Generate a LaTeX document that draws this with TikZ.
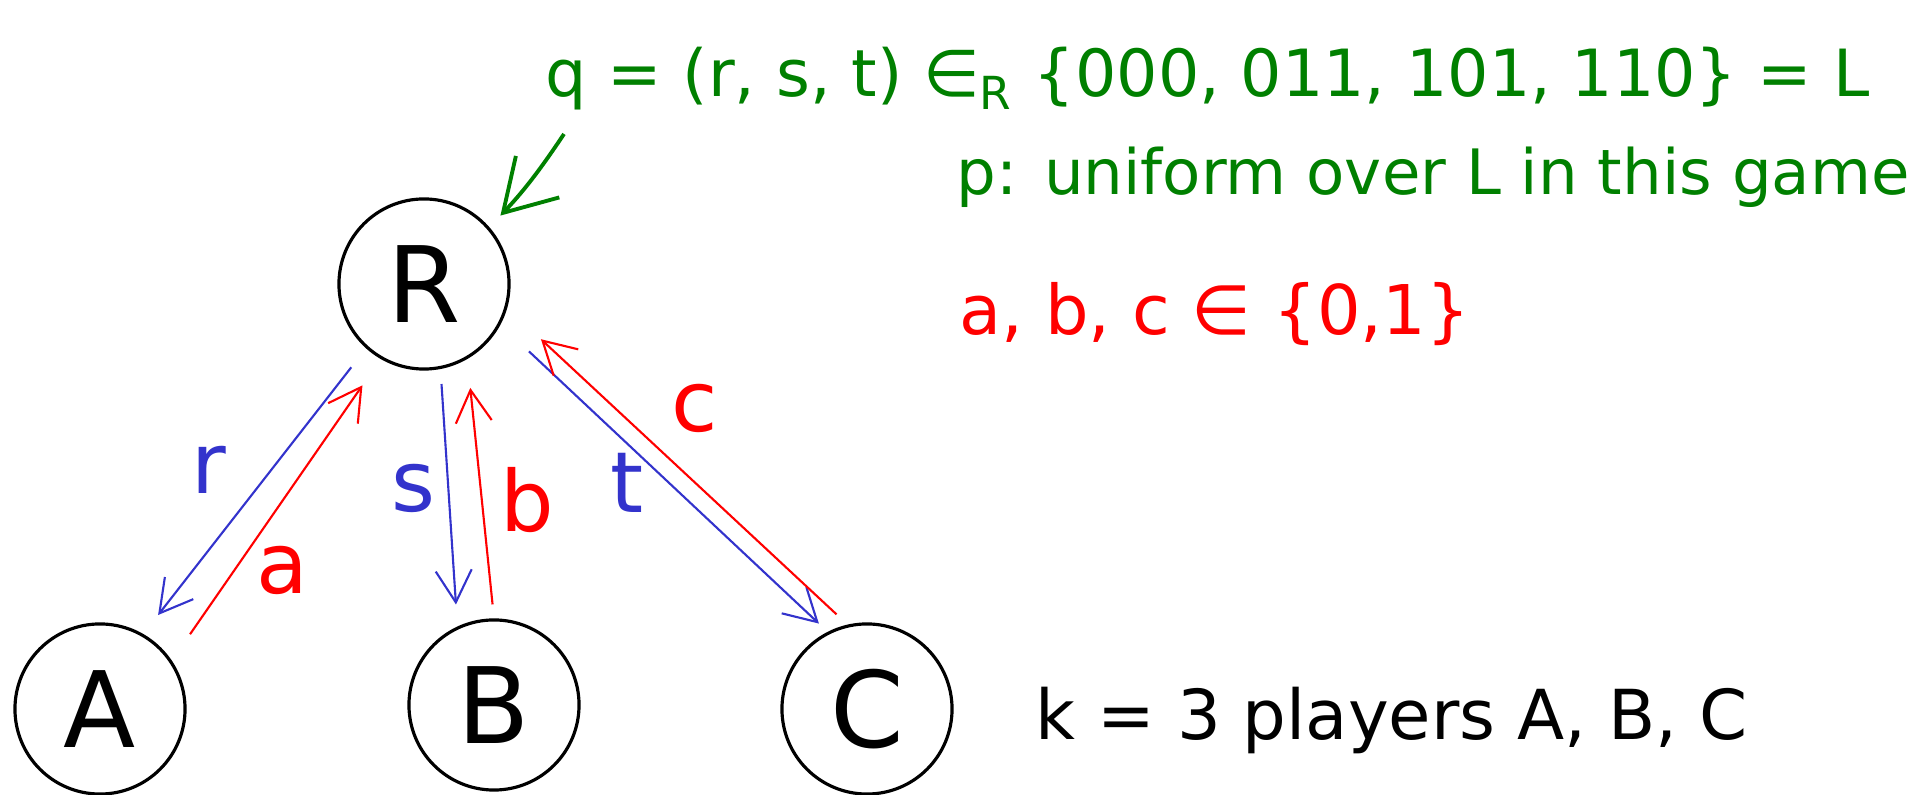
\documentclass[tikz,border=0pt]{standalone}
\usepackage{fontspec}
\setmainfont{DejaVu Sans}
\usepackage{tikz}
\usetikzlibrary{arrows.meta}
\definecolor{InkBlue}{RGB}{51,51,204}
\definecolor{InkRed}{RGB}{255,0,0}
\definecolor{InkGreen}{RGB}{0,128,0}

\begin{document}
\begin{tikzpicture}[x=0.01cm, y=-0.01cm,
 party/.style={draw, circle, line width=0.9pt, minimum size=1.70cm, inner sep=0pt, font=\fontsize{30}{30}\selectfont},
 down/.style={-{Straight Barb[length=3.2mm,width=3.6mm]}, line width=0.6pt, InkBlue},
 up/.style={-{Straight Barb[length=3.2mm,width=3.6mm]}, line width=0.6pt, InkRed},
 lbl/.style={inner sep=0pt, font=\fontsize{24}{24}\selectfont},
 note/.style={anchor=base west, inner sep=0pt, font=\fontsize{18.5}{22}\selectfont}
]
\useasboundingbox (0,0) rectangle (1932,795);

% players
\node[party] (R) at (424,284) {R};
\node[party] (A) at (100,709) {A};
\node[party] (B) at (494,705) {B};
\node[party] (C) at (867,709) {C};

% notes
\node[note, InkGreen] (query) at (545,97) {q = (r, s, t) ∈\textsubscript{R} \{000, 011, 101, 110\} = L};
\node[note, InkGreen, font=\fontsize{17.8}{22}\selectfont] (dist) at (956,195) {p: uniform over L in this game};
\node[note, InkRed, font=\fontsize{19.5}{22}\selectfont] (answers) at (959,335) {a, b, c ∈ \{0,1\}};
\node[anchor=base west, inner sep=0pt, font=\fontsize{19.6}{24}\selectfont] (players) at (1035,740) {k = 3 players A, B, C};
\coordinate (qfoot) at (564,134);

% messages
\draw[down, shorten <=0.24cm, shorten >=0.24cm] (R.228) -- (A.60);
\draw[up, shorten <=0.32cm, shorten >=0.32cm] (A.34) -- (R.240);
\draw[down, shorten <=0.15cm, shorten >=0.22cm] (R.281) -- (B.115);
\draw[up, shorten <=0.14cm, shorten >=0.29cm] (B.90) -- (R.300);
\draw[down, shorten <=0.39cm, shorten >=0.12cm] (R.332) -- (C.117);
\draw[up, shorten <=0.15cm, shorten >=0.46cm] (C.103) -- (R.344);
\draw[-{Straight Barb[length=5mm,width=6mm]}, line width=1.1pt, InkGreen, shorten >=0.16cm] (qfoot) to[bend left=5] (R.41);

% labels
\node[lbl, InkBlue] (rlbl) at (209,470) {r};
\node[lbl, InkRed] (albl) at (282,570) {a};
\node[lbl, InkBlue] (slbl) at (413,488) {s};
\node[lbl, InkRed] (blbl) at (527,500) {b};
\node[lbl, InkBlue] (tlbl) at (627,483) {t};
\node[lbl, InkRed] (clbl) at (695,408) {c};
\end{tikzpicture}
\end{document}
